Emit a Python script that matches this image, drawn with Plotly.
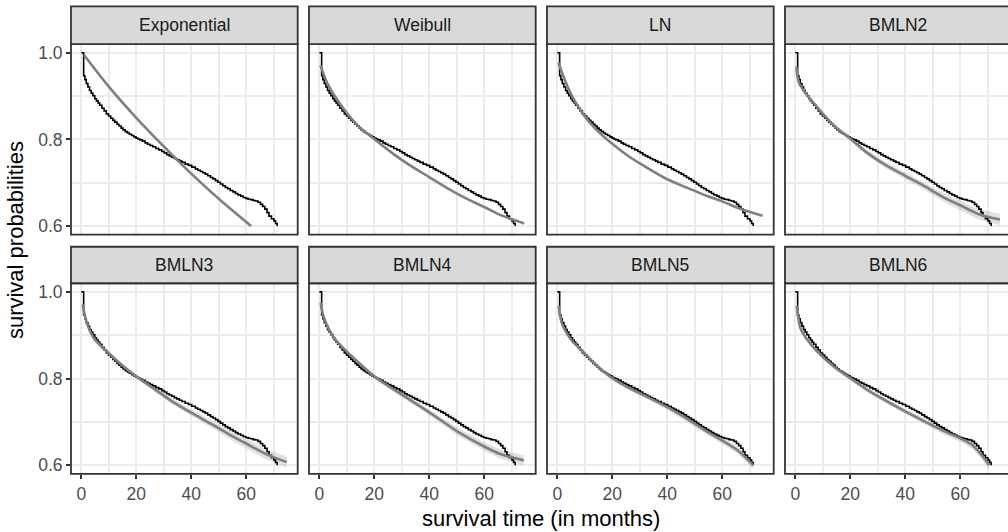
import plotly.graph_objects as go

W, H = 1008, 532
FONT = "Liberation Sans, Arial, Helvetica, sans-serif"

# ---------------- data ----------------
model_names = ["Exponential", "Weibull", "LN", "BMLN2",
               "BMLN3", "BMLN4", "BMLN5", "BMLN6"]

# Kaplan-Meier estimate (shared by all panels)
km_time = [0, 0.85, 1.3, 1.8, 2.4, 3.0, 3.6, 4.2, 4.9, 5.5, 6.1, 6.7, 7.5, 8.3,
           9.1, 9.9, 10.7, 11.5, 12.2, 13.0, 13.7, 14.5, 15.2, 16.0, 16.8, 17.5,
           18.3, 19.1, 19.9, 20.6, 21.3, 22.2, 23.2, 24.1, 25.0, 26.0, 27.1,
           28.2, 29.3, 30.2, 31.1, 32.0, 32.9, 33.8, 34.7, 35.7, 36.6, 37.8,
           39.0, 40.2, 41.5, 42.4, 43.3, 44.2, 45.1, 46.0, 47.0, 47.9, 48.8,
           49.7, 50.6, 51.5, 52.4, 53.3, 54.2, 55.2, 56.1, 57.0, 58.0, 58.9,
           59.8, 60.7, 61.6, 62.5, 63.4, 64.3, 65.2, 66.0, 66.8, 67.6, 68.3,
           69.2, 70.1, 70.7, 71.3]
km_surv = [1.000, 0.947, 0.938, 0.929, 0.921, 0.913, 0.907, 0.901, 0.894,
           0.889, 0.884, 0.879, 0.872, 0.866, 0.859, 0.854, 0.849, 0.844,
           0.840, 0.835, 0.831, 0.826, 0.822, 0.818, 0.815, 0.812, 0.809,
           0.806, 0.803, 0.801, 0.799, 0.796, 0.792, 0.789, 0.786, 0.783,
           0.779, 0.776, 0.772, 0.769, 0.765, 0.762, 0.759, 0.756, 0.753,
           0.750, 0.747, 0.743, 0.740, 0.736, 0.732, 0.729, 0.726, 0.723,
           0.720, 0.716, 0.712, 0.709, 0.705, 0.701, 0.697, 0.693, 0.689,
           0.686, 0.682, 0.679, 0.675, 0.672, 0.669, 0.666, 0.664, 0.662,
           0.661, 0.659, 0.658, 0.655, 0.650, 0.645, 0.639, 0.631, 0.623,
           0.617, 0.612, 0.606, 0.600]

exp_t = [1.0, 10.0, 20.0, 30.0, 40.0, 50.0, 61.8]
exp_s = [0.995, 0.922, 0.850, 0.784, 0.721, 0.663, 0.600]

wei_t = [0.4, 3.0, 7.9, 14.0, 20.0, 26.2, 32.3, 40.0, 47.0, 54.3, 60.0, 66.5, 74.6]
wei_s = [0.971, 0.929, 0.879, 0.832, 0.801, 0.770, 0.743, 0.713, 0.686, 0.661,
         0.644, 0.624, 0.606]

ln_t = [0.4, 3.0, 5.5, 9.8, 14.0, 20.0, 26.2, 32.3, 40.0, 47.0, 54.3, 60.0, 66.5, 74.7]
ln_s = [0.977, 0.933, 0.898, 0.855, 0.824, 0.790, 0.760, 0.736, 0.708, 0.689,
        0.670, 0.657, 0.640, 0.624]

b2_t = [0.4, 1.2, 3.0, 7.9, 14.0, 20.0, 26.2, 32.3, 40.0, 47.0, 54.3, 60.0, 66.5, 74.5]
b2_s = [0.968, 0.933, 0.913, 0.875, 0.832, 0.802, 0.769, 0.743, 0.716, 0.692,
        0.665, 0.648, 0.628, 0.615]
b2_hw = [0.002, 0.003, 0.003, 0.004, 0.004, 0.005, 0.006, 0.007, 0.008, 0.009,
         0.010, 0.011, 0.012, 0.013]

b3_t = [0.5, 1.2, 2.4, 4.9, 8.5, 14.6, 20.0, 26.8, 32.9, 40.0, 47.6, 54.9, 60.0, 67.0, 74.8]
b3_s = [0.971, 0.948, 0.921, 0.890, 0.867, 0.832, 0.805, 0.775, 0.748, 0.721,
        0.694, 0.667, 0.650, 0.626, 0.607]
b3_hw = [0.003, 0.003, 0.003, 0.004, 0.004, 0.005, 0.005, 0.006, 0.007, 0.008,
         0.009, 0.010, 0.011, 0.012, 0.013]

b4_t = [0.5, 1.5, 3.9, 6.3, 11.2, 20.0, 29.5, 40.0, 50.2, 60.0, 66.1, 74.4]
b4_s = [0.975, 0.944, 0.909, 0.886, 0.855, 0.805, 0.765, 0.722, 0.678, 0.643,
        0.625, 0.611]
b4_hw = [0.003, 0.003, 0.003, 0.004, 0.004, 0.005, 0.006, 0.007, 0.009, 0.010,
         0.011, 0.012]

b5_t = [0.5, 1.0, 1.8, 3.7, 5.5, 9.8, 14.0, 20.0, 26.2, 32.3, 40.0, 47.0, 54.3,
        60.0, 65.5, 71.3]
b5_s = [0.968, 0.945, 0.925, 0.902, 0.886, 0.859, 0.832, 0.801, 0.778, 0.759,
        0.734, 0.708, 0.678, 0.657, 0.635, 0.600]
b5_hw = [0.003, 0.003, 0.003, 0.003, 0.004, 0.004, 0.004, 0.005, 0.005, 0.005,
         0.006, 0.006, 0.007, 0.008, 0.008, 0.009]

b6_t = [0.5, 1.0, 1.8, 4.3, 7.9, 14.0, 20.0, 26.2, 32.3, 40.0, 47.0, 54.3, 60.0,
        64.3, 67.3, 70.6]
b6_s = [0.968, 0.945, 0.917, 0.890, 0.863, 0.828, 0.801, 0.774, 0.751, 0.724,
        0.701, 0.678, 0.662, 0.647, 0.627, 0.600]
b6_hw = [0.003, 0.003, 0.003, 0.004, 0.004, 0.005, 0.005, 0.005, 0.006, 0.006,
         0.007, 0.008, 0.008, 0.009, 0.010, 0.010]

fit_times = [exp_t, wei_t, ln_t, b2_t, b3_t, b4_t, b5_t, b6_t]
fit_surv = [exp_s, wei_s, ln_s, b2_s, b3_s, b4_s, b5_s, b6_s]
fit_hw = [None, None, None, b2_hw, b3_hw, b4_hw, b5_hw, b6_hw]

x_ticks = [0, 20, 40, 60]
x_minor = [10, 30, 50, 70]
y_ticks = [0.6, 0.8, 1.0]
y_ticklabels = ["0.6", "0.8", "1.0"]
y_minor = [0.7, 0.9]

# ---------------- layout geometry (pixels) ----------------
col_left = [71, 309, 547, 785]
panel_w = 226.7
row_top = [43.3, 283.3]
panel_h = 191.3
strip_top = [5.3, 246.7]
x_lo, x_hi = -3.75, 78.75
y_lo, y_hi = 0.58, 1.02


def px(x):
    return x / W


def py(y):
    return 1 - y / H


fig = go.Figure()
layout = dict(
    width=W, height=H,
    margin=dict(l=0, r=0, t=0, b=0),
    paper_bgcolor="white", plot_bgcolor="white",
    showlegend=False,
    font=dict(family=FONT),
    hovermode=False,
)
shapes = []
annotations = []

for i, name in enumerate(model_names):
    r, c = divmod(i, 4)
    ax = "" if i == 0 else str(i + 1)
    left = col_left[c]
    right = left + panel_w
    right_vis = min(right, W)
    top = row_top[r]
    bottom = top + panel_h
    xr_hi = x_lo + (right_vis - left) / panel_w * (x_hi - x_lo)

    grid = dict(showgrid=True, gridcolor="#EBEBEB", gridwidth=2.3,
                zeroline=False, showline=False, fixedrange=True)
    xa = dict(domain=[px(left), min(1.0, px(right))], range=[x_lo, xr_hi],
              tickvals=x_ticks, ticktext=[str(v) for v in x_ticks],
              minor=dict(tickvals=x_minor, showgrid=True, gridcolor="#EBEBEB",
                         gridwidth=2.0, ticks=""),
              anchor="y" + ax, **grid)
    ya = dict(domain=[py(bottom), py(top)], range=[y_lo, y_hi],
              tickvals=y_ticks, ticktext=y_ticklabels,
              minor=dict(tickvals=y_minor, showgrid=True, gridcolor="#EBEBEB",
                         gridwidth=2.0, ticks=""),
              anchor="x" + ax, **grid)
    if r == 1:
        xa.update(ticks="outside", ticklen=4, tickwidth=1.8, tickcolor="#333333",
                  showticklabels=True,
                  tickfont=dict(size=17.5, color="#4D4D4D", family=FONT))
    else:
        xa.update(ticks="", showticklabels=False)
    if c == 0:
        ya.update(ticks="outside", ticklen=4, tickwidth=1.8, tickcolor="#333333",
                  showticklabels=True,
                  tickfont=dict(size=17.5, color="#4D4D4D", family=FONT))
    else:
        ya.update(ticks="", showticklabels=False)
    layout["xaxis" + ax] = xa
    layout["yaxis" + ax] = ya

    # confidence band
    hw = fit_hw[i]
    t = fit_times[i]
    s = fit_surv[i]
    if hw is not None:
        up = [a + b for a, b in zip(s, hw)]
        lo = [a - b for a, b in zip(s, hw)]
        fig.add_trace(go.Scatter(
            x=list(t) + list(t)[::-1], y=up + lo[::-1],
            fill="toself", fillcolor="rgba(170,170,170,0.35)",
            line=dict(width=0), mode="lines",
            xaxis="x" + ax, yaxis="y" + ax))
    # Kaplan-Meier step curve
    fig.add_trace(go.Scatter(
        x=km_time, y=km_surv, mode="lines",
        line=dict(color="black", width=1.6, shape="hv"),
        xaxis="x" + ax, yaxis="y" + ax))
    # fitted curve
    fig.add_trace(go.Scatter(
        x=t, y=s, mode="lines",
        line=dict(color="#7F7F7F", width=2.6, shape="spline", smoothing=0.8),
        xaxis="x" + ax, yaxis="y" + ax))

    # panel border
    shapes.append(dict(type="rect", xref="paper", yref="paper",
                       x0=px(left), x1=px(right), y0=py(bottom), y1=py(top),
                       line=dict(color="#333333", width=1.8),
                       fillcolor="rgba(0,0,0,0)", layer="above"))
    # strip
    shapes.append(dict(type="rect", xref="paper", yref="paper",
                       x0=px(left), x1=px(right), y0=py(top), y1=py(strip_top[r]),
                       line=dict(color="#333333", width=1.8),
                       fillcolor="#D9D9D9", layer="above"))
    annotations.append(dict(text=name, xref="paper", yref="paper",
                            x=px((left + right) / 2),
                            y=py((strip_top[r] + top) / 2),
                            showarrow=False, xanchor="center", yanchor="middle",
                            font=dict(size=17.5, color="#1A1A1A", family=FONT)))

annotations.append(dict(text="survival time (in months)", xref="paper", yref="paper",
                        x=px(541), y=py(519), showarrow=False,
                        xanchor="center", yanchor="middle",
                        font=dict(size=22, color="black", family=FONT)))
annotations.append(dict(text="survival probabilities", xref="paper", yref="paper",
                        x=px(15), y=py(240), showarrow=False, textangle=-90,
                        xanchor="center", yanchor="middle",
                        font=dict(size=22, color="black", family=FONT)))

layout["shapes"] = shapes
layout["annotations"] = annotations
fig.update_layout(**layout)
fig.write_html("out.html")
